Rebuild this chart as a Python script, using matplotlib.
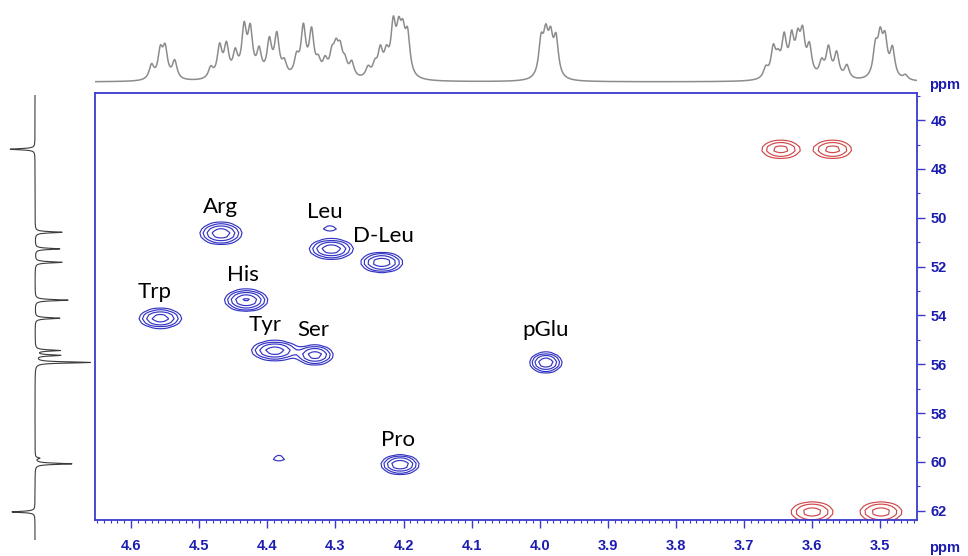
import numpy as np
import matplotlib
matplotlib.use('Agg')
import matplotlib.pyplot as plt
from matplotlib.ticker import MultipleLocator, FormatStrFormatter

# 2D cross peaks: 1H shift, 13C shift, intensity, widths (ppm)
peak_h = [4.468, 4.308, 4.306, 4.232, 4.557, 4.431, 4.389, 4.330, 3.991, 4.205, 4.383,
          3.646, 3.570, 3.600, 3.499]
peak_c = [50.64, 50.43, 51.28, 51.83, 54.12, 53.38, 55.44, 55.62, 55.93, 60.11, 59.85,
          47.20, 47.20, 62.05, 62.05]
peak_amp = [0.80, 0.16, 0.80, 0.80, 0.75, 0.95, 0.75, 0.72, 0.85, 0.85, 0.14,
            -0.40, -0.40, -0.42, -0.42]
peak_wh = [0.0151, 0.010, 0.0158, 0.0151, 0.0155, 0.0149, 0.017, 0.0135, 0.0114, 0.0135, 0.011,
           0.0168, 0.0168, 0.0182, 0.0182]
peak_wc = [0.22, 0.12, 0.20, 0.20, 0.20, 0.21, 0.20, 0.20, 0.20, 0.19, 0.14,
           0.22, 0.22, 0.24, 0.24]

# residue labels
labels = ['Arg', 'Leu', 'D-Leu', 'Trp', 'His', 'Tyr', 'Ser', 'pGlu', 'Pro']
label_h = [4.469, 4.315, 4.230, 4.565, 4.436, 4.403, 4.332, 3.991, 4.208]
label_c = [49.56, 49.77, 50.75, 53.04, 52.35, 54.40, 54.60, 54.60, 59.10]

# 1H projection (top): line positions and heights
proj_h_ppm = [4.570, 4.557, 4.550, 4.536,
              4.483, 4.470, 4.460, 4.447, 4.434, 4.425, 4.412, 4.397, 4.386, 4.375,
              4.357, 4.347, 4.335, 4.325, 4.315, 4.305, 4.299, 4.293, 4.286, 4.276,
              4.252, 4.242, 4.234, 4.225, 4.215, 4.207, 4.201, 4.194,
              3.998, 3.991, 3.984, 3.976,
              3.668, 3.657, 3.650, 3.641, 3.630, 3.621, 3.614, 3.604,
              3.586, 3.576, 3.564, 3.549,
              3.507, 3.500, 3.493, 3.482, 3.463]
proj_h_int = [0.21, 0.40, 0.43, 0.27,
              0.16, 0.46, 0.46, 0.34, 0.70, 0.66, 0.37, 0.52, 0.61, 0.20,
              0.27, 0.72, 0.66, 0.20, 0.22, 0.30, 0.36, 0.36, 0.20, 0.22,
              0.15, 0.17, 0.38, 0.30, 0.72, 0.56, 0.52, 0.58,
              0.52, 0.55, 0.52, 0.56,
              0.15, 0.42, 0.23, 0.56, 0.54, 0.48, 0.58, 0.43,
              0.22, 0.44, 0.37, 0.20,
              0.43, 0.54, 0.52, 0.43, 0.07]

# 13C projection (left): line positions and heights
proj_c_ppm = [47.20, 50.60, 51.28, 51.83, 53.38, 54.12, 55.44, 55.64, 55.93, 59.85, 60.08, 62.05]
proj_c_int = [-0.45, 0.49, 0.45, 0.49, 0.60, 0.45, 0.45, 0.45, 1.00, 0.08, 0.67, -0.42]

blue = '#3a3ad0'
dark_blue = '#1c1cb0'
contour_blue = '#3434c4'
red = '#d04848'

fig = plt.figure(figsize=(9.68, 5.56), dpi=100)
ax = fig.add_axes([95/968, 1-520/556, 822/968, 427/556])
ax_top = fig.add_axes([95/968, 1-85/556, 822/968, 80/556])
ax_left = fig.add_axes([0, 1-540/556, 95/968, 445/556])

xg = np.arange(3.43, 4.67, 0.0045)
yg = np.arange(44.7, 62.6, 0.16)
X, Y = np.meshgrid(xg, yg)
Z = np.zeros_like(X)
for h, c, a, wh, wc in zip(peak_h, peak_c, peak_amp, peak_wh, peak_wc):
    Z += a * np.exp(-((X - h)**2 / (2*wh**2) + (Y - c)**2 / (2*wc**2)))

levels = [0.1, 0.18, 0.32, 0.55, 0.88]
ax.contour(X, Y, Z, levels=levels, colors=contour_blue, linewidths=0.85)
ax.contour(X, Y, Z, levels=[-l for l in levels[::-1]], colors=red, linewidths=0.85,
           linestyles='solid')

for t, h, c in zip(labels, label_h, label_c):
    ax.text(h, c, t, ha='center', va='center', fontsize=16, family='Lato', color='black')

ax.set_xlim(4.653, 3.446)
ax.set_ylim(62.38, 44.89)
ax.xaxis.set_major_locator(MultipleLocator(0.1))
ax.xaxis.set_minor_locator(MultipleLocator(0.01))
ax.xaxis.set_major_formatter(FormatStrFormatter('%.1f'))
ax.yaxis.set_major_locator(MultipleLocator(2))
ax.yaxis.set_minor_locator(MultipleLocator(1))
ax.yaxis.set_major_formatter(FormatStrFormatter('%d'))
ax.yaxis.tick_right()
for s in ax.spines.values():
    s.set_color(blue)
    s.set_linewidth(1.3)
ax.tick_params(axis='x', which='major', length=6, width=1, color=blue,
               labelcolor=dark_blue, labelsize=10.5, pad=8)
ax.tick_params(axis='y', which='major', length=6, width=1, color=blue,
               labelcolor=dark_blue, labelsize=10.5, pad=4)
ax.tick_params(axis='both', which='minor', length=2.5, width=0.8, color=blue)
for lab in ax.get_xticklabels() + ax.get_yticklabels():
    lab.set_fontweight('bold')
    lab.set_family('Liberation Sans')

fig.text(945/968, 1-548/556, 'ppm', ha='center', va='center', fontsize=10.5,
         fontweight='bold', color=dark_blue, family='Liberation Sans')
fig.text(945/968, 1-85/556, 'ppm', ha='center', va='center', fontsize=10.5,
         fontweight='bold', color=dark_blue, family='Liberation Sans')

# top 1H projection
xs = np.linspace(3.446, 4.653, 4000)
spec = np.zeros_like(xs)
g = 0.0042
for p, a in zip(proj_h_ppm, proj_h_int):
    spec += a * g**2 / ((xs - p)**2 + g**2)
ax_top.plot(xs, spec, color='#8c8c8c', lw=1.1)
ax_top.set_xlim(4.653, 3.446)
ax_top.set_ylim(-0.045, 1.15)
ax_top.axis('off')

# left 13C projection
ys = np.linspace(44.9, 63.3, 4000)
cspec = np.zeros_like(ys)
gc = 0.03
for p, a in zip(proj_c_ppm, proj_c_int):
    cspec += a * gc**2 / ((ys - p)**2 + gc**2)
ax_left.plot(cspec, ys, color='#3c3c3c', lw=0.8)
ax_left.set_ylim(63.2, 44.98)
ax_left.set_xlim(-0.636, 1.09)
ax_left.axis('off')

fig.savefig('out.png', dpi=100)
